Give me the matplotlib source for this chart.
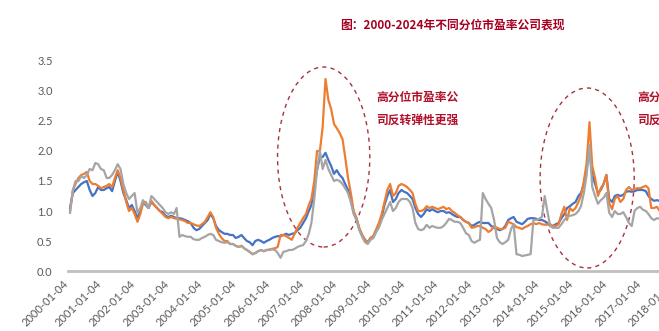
import numpy as np
import pandas as pd
import matplotlib
matplotlib.use('Agg')
import matplotlib.pyplot as plt
import matplotlib.dates as mdates
from matplotlib.patches import Ellipse

# monthly readings, Jan 2000 - Aug 2017 (one row per year)
blue = [1.05, 1.30, 1.35, 1.40, 1.45, 1.48, 1.50, 1.35, 1.25, 1.30, 1.40, 1.35,
        1.35, 1.38, 1.40, 1.33, 1.50, 1.65, 1.50, 1.30, 1.18, 1.05, 1.10, 1.00,
        0.88, 1.00, 1.15, 1.10, 1.05, 1.15, 1.10, 1.05, 1.00, 0.98, 0.92, 0.90,
        0.92, 0.90, 0.88, 0.88, 0.87, 0.85, 0.83, 0.80, 0.72, 0.68, 0.70, 0.75,
        0.80, 0.85, 0.95, 0.88, 0.75, 0.68, 0.65, 0.62, 0.62, 0.60, 0.60, 0.55,
        0.57, 0.60, 0.55, 0.50, 0.48, 0.43, 0.50, 0.52, 0.50, 0.47, 0.50, 0.52,
        0.55, 0.57, 0.58, 0.58, 0.60, 0.62, 0.60, 0.62, 0.63, 0.68, 0.72, 0.80,
        0.88, 1.00, 1.10, 1.40, 1.68, 1.90, 1.90, 1.97, 1.85, 1.75, 1.62, 1.68,
        1.60, 1.55, 1.45, 1.35, 1.20, 0.97, 0.88, 0.70, 0.60, 0.52, 0.48, 0.55,
        0.58, 0.68, 0.75, 0.90, 1.10, 1.25, 1.35, 1.15, 1.20, 1.30, 1.35, 1.32,
        1.30, 1.25, 1.20, 1.05, 0.95, 0.90, 0.95, 1.03, 1.00, 1.03, 1.00, 0.98,
        1.00, 1.00, 0.97, 0.98, 0.95, 0.92, 0.90, 0.90, 0.85, 0.82, 0.80, 0.75,
        0.77, 0.80, 0.82, 0.80, 0.80, 0.80, 0.75, 0.72, 0.70, 0.68, 0.70, 0.75,
        0.85, 0.88, 0.90, 0.82, 0.80, 0.78, 0.82, 0.87, 0.88, 0.88, 0.87, 0.85,
        0.85, 0.83, 0.80, 0.75, 0.75, 0.78, 0.80, 0.88, 0.95, 1.05, 1.08, 1.12,
        1.15, 1.25, 1.30, 1.45, 1.70, 2.00, 1.60, 1.45, 1.30, 1.35, 1.45, 1.60,
        1.20, 1.15, 1.25, 1.27, 1.25, 1.27, 1.32, 1.33, 1.32, 1.33, 1.35, 1.35,
        1.35, 1.33, 1.25, 1.20, 1.17, 1.18, 1.17, 1.20]

orange = [1.00, 1.35, 1.45, 1.55, 1.60, 1.62, 1.65, 1.50, 1.45, 1.45, 1.42, 1.38,
          1.40, 1.42, 1.45, 1.40, 1.55, 1.68, 1.55, 1.35, 1.15, 1.00, 1.05, 0.95,
          0.82, 0.95, 1.12, 1.15, 1.05, 1.17, 1.10, 1.05, 1.00, 0.95, 0.90, 0.88,
          0.90, 0.88, 0.87, 0.86, 0.85, 0.83, 0.80, 0.80, 0.78, 0.76, 0.75, 0.78,
          0.82, 0.90, 0.98, 0.90, 0.72, 0.62, 0.55, 0.50, 0.50, 0.45, 0.45, 0.42,
          0.40, 0.42, 0.38, 0.35, 0.32, 0.28, 0.30, 0.33, 0.35, 0.33, 0.35, 0.35,
          0.37, 0.38, 0.40, 0.60, 0.60, 0.58, 0.55, 0.52, 0.62, 0.72, 0.80, 0.88,
          0.95, 1.10, 1.20, 1.50, 2.00, 2.00, 2.40, 3.20, 2.85, 2.70, 2.45, 2.38,
          2.30, 2.20, 1.90, 1.55, 1.30, 1.00, 0.88, 0.72, 0.60, 0.52, 0.48, 0.55,
          0.58, 0.70, 0.80, 0.95, 1.15, 1.35, 1.45, 1.25, 1.30, 1.42, 1.45, 1.43,
          1.40, 1.35, 1.30, 1.12, 1.00, 1.00, 1.02, 1.08, 1.05, 1.07, 1.05, 1.03,
          1.05, 1.07, 1.03, 1.05, 1.00, 0.97, 0.93, 0.90, 0.85, 0.82, 0.80, 0.72,
          0.73, 0.75, 0.75, 0.72, 0.70, 0.65, 0.68, 0.75, 0.72, 0.70, 0.70, 0.72,
          0.82, 0.80, 0.78, 0.73, 0.72, 0.70, 0.73, 0.75, 0.78, 0.80, 0.78, 0.80,
          0.78, 0.77, 0.78, 0.78, 0.75, 0.75, 0.78, 0.95, 1.07, 0.85, 1.05, 1.00,
          1.05, 1.15, 1.25, 1.50, 1.80, 2.48, 1.75, 1.55, 1.25, 1.38, 1.45, 1.60,
          1.13, 1.03, 1.20, 1.25, 1.15, 1.20, 1.35, 1.40, 1.35, 1.37, 1.38, 1.38,
          1.40, 1.42, 1.38, 1.05, 1.05, 1.07, 1.00, 1.05]

gray = [0.97, 1.35, 1.50, 1.50, 1.58, 1.55, 1.60, 1.70, 1.68, 1.80, 1.78, 1.70,
        1.68, 1.55, 1.55, 1.60, 1.68, 1.78, 1.70, 1.45, 1.30, 1.20, 1.25, 1.30,
        0.97, 1.05, 1.18, 1.12, 1.05, 1.25, 1.20, 1.15, 1.10, 1.05, 0.98, 0.95,
        0.98, 0.95, 1.05, 0.57, 0.60, 0.58, 0.57, 0.57, 0.53, 0.52, 0.52, 0.55,
        0.57, 0.60, 0.62, 0.60, 0.52, 0.50, 0.48, 0.47, 0.48, 0.45, 0.45, 0.42,
        0.40, 0.42, 0.38, 0.35, 0.32, 0.28, 0.30, 0.33, 0.35, 0.33, 0.35, 0.36,
        0.36, 0.35, 0.30, 0.22, 0.32, 0.33, 0.35, 0.35, 0.37, 0.40, 0.42, 0.43,
        0.50, 0.62, 0.80, 1.20, 1.68, 2.00, 1.70, 1.85, 1.70, 1.60, 1.50, 1.52,
        1.50, 1.45, 1.38, 1.30, 1.15, 0.95, 0.85, 0.68, 0.57, 0.48, 0.45, 0.52,
        0.55, 0.65, 0.72, 0.85, 0.95, 1.05, 1.15, 1.00, 1.05, 1.15, 1.20, 1.20,
        1.20, 1.15, 1.05, 0.80, 0.70, 0.68, 0.70, 0.77, 0.72, 0.75, 0.73, 0.72,
        0.72, 0.75, 0.80, 0.87, 0.85, 0.82, 0.82, 0.80, 0.72, 0.63, 0.60, 0.50,
        0.47, 0.50, 0.52, 1.30, 1.20, 1.12, 1.05, 0.85, 0.55, 0.48, 0.45, 0.48,
        0.52, 0.70, 0.78, 0.28, 0.27, 0.25, 0.26, 0.27, 0.28, 0.85, 0.85, 0.87,
        0.90, 1.25, 1.00, 0.75, 0.72, 0.72, 0.72, 0.78, 0.85, 0.90, 0.92, 0.93,
        0.95, 1.00, 1.08, 1.30, 1.60, 2.10, 1.40, 1.25, 1.12, 1.18, 1.22, 1.30,
        0.97, 0.90, 1.00, 0.95, 0.95, 0.98, 0.90, 0.80, 0.75, 1.00, 1.05, 1.07,
        1.02, 1.00, 0.95, 0.88, 0.85, 0.88, 0.87, 0.90]

tick_years = list(range(2000, 2019))
title = '图：2000-2024年不同分位市盈率公司表现'
note = '高分位市盈率公\n司反转弹性更强'

dates = pd.date_range('2000-01-01', periods=len(blue), freq='MS') + pd.Timedelta(days=3)
cjk = ['Noto Sans CJK SC', 'DejaVu Sans']
red = '#B0122B'

fig = plt.figure(figsize=(6.59, 3.31), dpi=100)

# axis runs past the right edge like the cropped original
x_lo = mdates.date2num(pd.Timestamp('1999-12-13'))
x_hi = mdates.date2num(pd.Timestamp('2018-09-01'))
px_day = 33.7 / 365.25
ax = fig.add_axes([68 / 659, 60 / 331, (x_hi - x_lo) * px_day / 659, 210 / 331])

ax.plot(dates, blue, color='#4472C4', lw=1.6)
ax.plot(dates, orange, color='#ED7D31', lw=1.6)
ax.plot(dates, gray, color='#A5A5A5', lw=1.6)

ax.set_xlim(x_lo, x_hi)
ax.set_ylim(0, 3.5)
ax.set_yticks(np.arange(0, 3.51, 0.5))
ax.yaxis.set_major_formatter(plt.FormatStrFormatter('%.1f'))
ticks = [pd.Timestamp(f'{y}-01-04') for y in tick_years]
ax.set_xticks(ticks)
ax.set_xticklabels([t.strftime('%Y-%m-%d') for t in ticks], rotation=45, ha='right',
                   rotation_mode='default')
ax.tick_params(axis='both', length=0, labelsize=8, colors='#595959')
ax.tick_params(axis='x', pad=5)
ax.tick_params(axis='y', pad=11)
for lab in ax.get_xticklabels() + ax.get_yticklabels():
    lab.set_family('Lato')
for s in ['top', 'right', 'left']:
    ax.spines[s].set_visible(False)
ax.spines['bottom'].set_color('#BFBFBF')
ax.spines['bottom'].set_linewidth(2)

# dashed circles around the two bubbles
for c, w in [('2007-07-15', 1000), ('2015-05-10', 1020)]:
    yc = 1.9 if c.startswith('2007') else 1.55
    ax.add_patch(Ellipse((mdates.date2num(pd.Timestamp(c)), yc), w, 3.0,
                         fill=False, ec='#A8323E', lw=1.0, ls=(0, (3, 3)), clip_on=False))

fig.text(340 / 659, 1 - 25 / 331, title, family=cjk, fontsize=8.5, fontweight='bold',
         color='#A50021', va='center', ha='left')
fig.text(376 / 659, 1 - 109 / 331, note, family=cjk, fontsize=8.5, fontweight='bold',
         color=red, va='center', ha='left', linespacing=2.0)
fig.text(637 / 659, 1 - 109 / 331, note, family=cjk, fontsize=8.5, fontweight='bold',
         color=red, va='center', ha='left', linespacing=2.0)

fig.savefig('out.png', dpi=100)
